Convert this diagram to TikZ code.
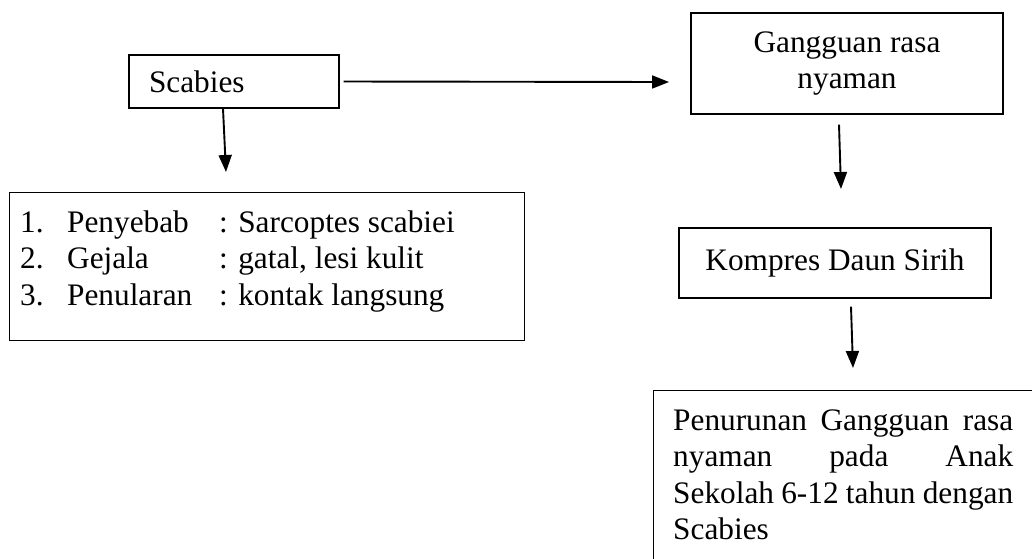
\documentclass[tikz,border=0pt]{standalone}
\usepackage{fontspec}
\setmainfont{Liberation Serif}
\usetikzlibrary{arrows.meta}
\begin{document}
\begin{tikzpicture}[x=1pt,y=-1pt,
  font=\fontsize{31.3}{36.5}\selectfont,
  box/.style={draw, line width=1.2pt, inner sep=0pt},
  arr/.style={line width=1.9pt, -{Triangle[length=17pt,width=13pt]}}]
\useasboundingbox (0,0) rectangle (1032,558);
\clip (0,0) rectangle (1032,558);

% Scabies
\node[box, minimum width=210, minimum height=53, text width=170pt, align=left] (sc) at (234,81.5) {Scabies};

% list box
\node[box, minimum width=515, minimum height=148, anchor=north west] (lst) at (9,192) {};
\node[anchor=base west, inner sep=0pt] (lsttxt) at (20,232) {\begin{tabular}[t]{@{}p{47pt}@{}p{152pt}@{}l@{}}
1. & Penyebab & : Sarcoptes scabiei\\
2. & Gejala & : gatal, lesi kulit\\
3. & Penularan & : kontak langsung
\end{tabular}};

% Gangguan rasa nyaman
\node[box, minimum width=312, minimum height=101, align=center] (gg) at (847,63.5) {Gangguan rasa\\nyaman};

% Kompres
\node[box, minimum width=312, minimum height=70] (kd) at (835,263) {Kompres Daun Sirih};

% Final box
\node[box, minimum width=420, minimum height=220, anchor=north west] (fin) at (653,390) {};
\node[anchor=base west, inner sep=0pt, text width=340pt, align=left] (fintxt) at (673,430) {%
\makebox[340pt][s]{Penurunan\hfill Gangguan\hfill rasa}\\
\makebox[340pt][s]{nyaman\hfill pada\hfill Anak}\\
\makebox[340pt][s]{Sekolah\hfill 6-12\hfill tahun\hfill dengan}\\
Scabies};

% arrows
\coordinate (a1) at (226,172);
\coordinate (a2) at (669,82);
\coordinate (a3) at (841,189);
\coordinate (a4) at (853,368);
\draw[arr] ([xshift=-11pt]sc.south) -- (a1);
\draw[arr] ([xshift=4pt]sc.east) -- (a2);
\draw[arr] ([xshift=-8pt,yshift=-10pt]gg.south) -- (a3);
\draw[arr] ([xshift=16pt,yshift=-8pt]kd.south) -- (a4);
\end{tikzpicture}
\end{document}
